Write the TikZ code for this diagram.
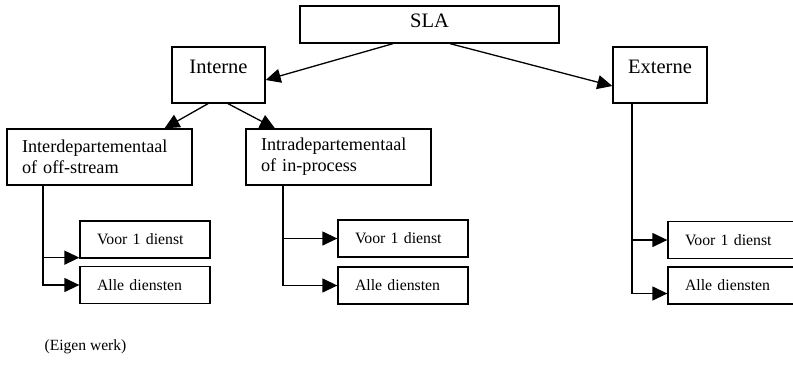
\documentclass[tikz,border=0pt]{standalone}
\usepackage{fontspec}
\setmainfont{Liberation Serif}
\usetikzlibrary{arrows.meta}

\begin{document}
\begin{tikzpicture}[x=1pt,y=-1pt,
  pijl/.style={line width=1.3pt,-{Triangle[length=15pt,width=14pt]}},
  hoofdbox/.style={draw,line width=1.3pt,font=\fontsize{20.5}{24}\selectfont,inner ysep=5pt,text height=21pt,text depth=25pt},
  tweebox/.style={draw,line width=1.3pt,font=\fontsize{18.2}{21}\selectfont,text width=155pt,inner xsep=15pt,align=left,minimum height=56pt},
  kleinbox/.style={draw,line width=1.3pt,font=\fontsize{15.8}{18}\selectfont,text width=96pt,inner xsep=17pt,align=left,minimum height=37pt}]
  \clip (0,0) rectangle (793,365);
  % bovenste niveau
  \node[hoofdbox,minimum width=259pt,inner ysep=2pt,text height=19pt,text depth=14pt] (sla) at (429.5,24.5) {SLA};
  \node[hoofdbox,minimum width=93pt] (interne) at (218.5,75) {Interne};
  \node[hoofdbox,minimum width=94pt] (externe) at (660,75) {Externe};
  % tweede niveau
  \node[tweebox] (inter) at (99.5,157) {Interdepartementaal\\of off-stream};
  \node[tweebox] (intra) at (338.5,157) {Intradepartementaal\\of in-process};
  % diensten
  \node[kleinbox] (voorA) at (145,239.5) {Voor 1 dienst};
  \node[kleinbox] (alleA) at (145,285) {Alle diensten};
  \node[kleinbox] (voorB) at (403,238.5) {Voor 1 dienst};
  \node[kleinbox] (alleB) at (403,285.5) {Alle diensten};
  \node[kleinbox] (voorC) at (733,240) {Voor 1 dienst};
  \node[kleinbox] (alleC) at (733,285.5) {Alle diensten};
  \node[font=\fontsize{15.6}{18}\selectfont] (bron) at (85.5,347) {(Eigen werk)};
  % pijlen
  \draw[pijl] ([xshift=-36.5pt]sla.south) -- ([yshift=-5pt]interne.east);
  \draw[pijl] ([xshift=20.5pt]sla.south) -- ([yshift=-11pt]externe.west);
  \draw[pijl] ([xshift=-10.5pt]interne.south) -- ([xshift=65pt]inter.north);
  \draw[pijl] ([xshift=9.5pt]interne.south) -- ([xshift=-63.5pt]intra.north);
  \draw[pijl] ([xshift=-56.5pt]inter.south) |- (alleA.west);
  \draw[pijl] ([xshift=-37pt,yshift=1pt]voorA.south west) -- ([yshift=1pt]voorA.south west);
  \draw[pijl] ([xshift=-55.5pt]intra.south) |- (alleB.west);
  \draw[pijl] ([xshift=-55pt]voorB.west) -- (voorB.west);
  \draw[pijl] ([xshift=-28pt]externe.south) |- ([yshift=-8pt]alleC.west);
  \draw[pijl] ([xshift=-36pt]voorC.west) -- (voorC.west);
\end{tikzpicture}
\end{document}
